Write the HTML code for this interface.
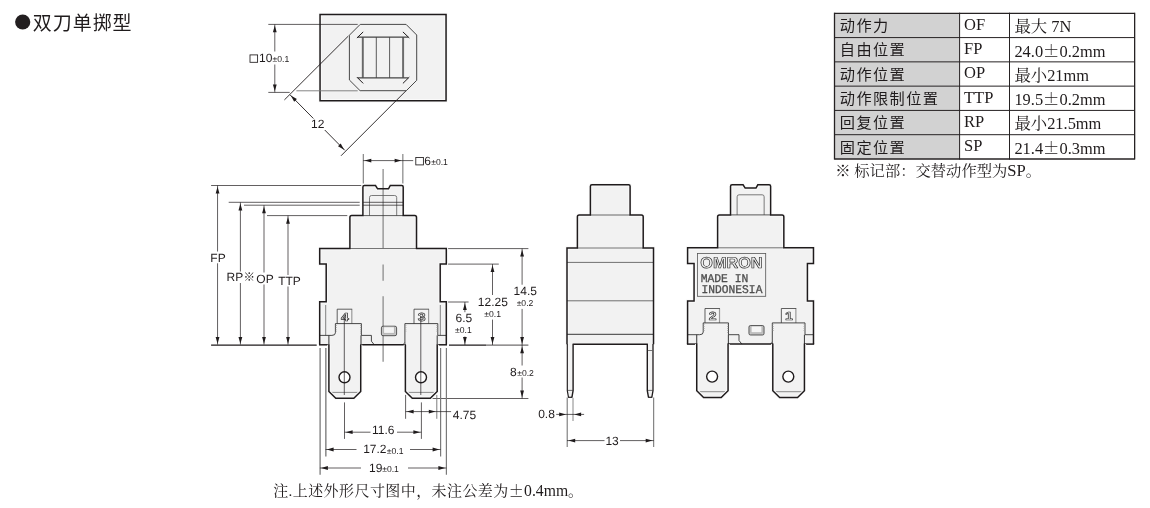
<!DOCTYPE html>
<html lang="zh-CN">
<head>
<meta charset="utf-8">
<title>双刀单掷型</title>
<style>
html,body{margin:0;padding:0;background:#fff;}
body{width:1150px;height:508px;overflow:hidden;position:relative;}
svg{will-change:transform;position:absolute;left:0;top:0;display:block;}
.s{font-family:"Liberation Sans","Noto Sans CJK SC",sans-serif;text-rendering:geometricPrecision;}
.r{font-family:"Liberation Serif","Noto Serif CJK SC",serif;}
.m{font-family:"Liberation Mono","Noto Sans CJK SC",monospace;}
.cs{font-family:"Liberation Sans","Noto Sans CJK SC",sans-serif;}
.cr{font-family:"Liberation Serif","Noto Serif CJK SC",serif;}
.pm{font-family:"Noto Serif CJK SC",serif;}
</style>
</head>
<body>
<svg width="1150" height="508" viewBox="0 0 1150 508">
<circle cx="22.7" cy="22" r="7.6" fill="#231f20"/>
<text x="32.8" y="29.8" font-size="19" text-anchor="start" class="cs" fill="#1f1b1c" letter-spacing="0.95" font-weight="400">双刀单掷型</text>
<rect x="320.05" y="14.5" width="126" height="86.25" rx="0" stroke="none" stroke-width="0" fill="#f2f2f2" />
<path d="M349.4 35.2 L360.2 24.4 L406.1 24.4 L416.7 35.0 L416.7 80.3 L406.3 90.7 L360.1 90.7 L349.4 80.0 Z" stroke="#484848" stroke-width="1.0" fill="none" />
<line x1="362.8" y1="37.2" x2="362.8" y2="77.8" stroke="#7d7d7d" stroke-width="2.0" />
<line x1="403.1" y1="37.2" x2="403.1" y2="77.8" stroke="#7d7d7d" stroke-width="2.0" />
<line x1="357.8" y1="37.1" x2="408.2" y2="37.1" stroke="#444" stroke-width="1.2" />
<line x1="357.8" y1="77.9" x2="408.2" y2="77.9" stroke="#444" stroke-width="1.2" />
<line x1="362.8" y1="37.2" x2="362.8" y2="77.8" stroke="#444" stroke-width="0.5" />
<line x1="403.1" y1="37.2" x2="403.1" y2="77.8" stroke="#444" stroke-width="0.5" />
<line x1="376.3" y1="37.2" x2="376.3" y2="77.8" stroke="#333" stroke-width="0.8" />
<line x1="389.6" y1="37.2" x2="389.6" y2="77.8" stroke="#333" stroke-width="0.8" />
<line x1="356.9" y1="38" x2="363.2" y2="31.9" stroke="#1f1b1c" stroke-width="1.0" />
<line x1="402.9" y1="31.9" x2="409.3" y2="38" stroke="#1f1b1c" stroke-width="1.0" />
<line x1="356.9" y1="77.1" x2="363.2" y2="83.4" stroke="#1f1b1c" stroke-width="1.0" />
<line x1="402.9" y1="83.4" x2="409.3" y2="77.1" stroke="#1f1b1c" stroke-width="1.0" />
<path d="M320.05 14.5 H446.05 V100.75 H320.05 Z" stroke="#fafafa" stroke-width="3.4" fill="none" />
<path d="M320.05 14.5 H446.05 V100.75 H320.05 Z" stroke="#1f1b1c" stroke-width="1.5" fill="none" />
<line x1="268.3" y1="24.4" x2="357.7" y2="24.4" stroke="#1f1b1c" stroke-width="0.7" />
<line x1="268.3" y1="92.4" x2="289.7" y2="92.4" stroke="#1f1b1c" stroke-width="0.7" />
<line x1="296.4" y1="90.8" x2="357.7" y2="90.8" stroke="#777" stroke-width="0.9" />
<line x1="274.8" y1="24.4" x2="274.8" y2="92.4" stroke="#1f1b1c" stroke-width="0.7" />
<polygon points="274.80,25.50 276.70,32.30 272.90,32.30" fill="#1f1b1c"/>
<polygon points="274.80,91.30 272.90,84.50 276.70,84.50" fill="#1f1b1c"/>
<rect x="249" y="51.5" width="41.5" height="13" fill="#fff"/>
<rect x="250" y="54.9" width="7.6" height="7.4" rx="0" stroke="#1f1b1c" stroke-width="0.85" fill="none" />
<text x="259" y="61.8" font-size="12" text-anchor="start" class="s" fill="#1f1b1c" >10</text>
<text x="272.6" y="62.3" font-size="8.6" text-anchor="start" class="s" fill="#1f1b1c" >±0.1</text>
<line x1="348.3" y1="36.1" x2="284.4" y2="99.9" stroke="#1f1b1c" stroke-width="0.9" />
<line x1="406.1" y1="90.7" x2="341" y2="155.8" stroke="#1f1b1c" stroke-width="0.9" />
<line x1="290.1" y1="94.9" x2="344.8" y2="150.3" stroke="#1f1b1c" stroke-width="0.9" />
<polygon points="290.74,95.54 296.89,99.00 294.20,101.69" fill="#1f1b1c"/>
<polygon points="344.16,149.66 338.01,146.20 340.70,143.51" fill="#1f1b1c"/>
<rect x="310.5" y="118.5" width="14.5" height="11.5" fill="#fff"/>
<text x="311" y="128.1" font-size="12" text-anchor="start" class="s" fill="#1f1b1c" >12</text>
<line x1="363.3" y1="154" x2="363.3" y2="183.6" stroke="#7a7a7a" stroke-width="1.1" />
<line x1="402.85" y1="154" x2="402.85" y2="183.6" stroke="#7a7a7a" stroke-width="1.1" />
<line x1="363.2" y1="160.6" x2="413.2" y2="160.6" stroke="#1f1b1c" stroke-width="0.7" />
<polygon points="364.50,160.60 371.30,158.70 371.30,162.50" fill="#1f1b1c"/>
<polygon points="401.40,160.60 394.60,162.50 394.60,158.70" fill="#1f1b1c"/>
<rect x="415.8" y="157.5" width="7.6" height="7.4" rx="0" stroke="#1f1b1c" stroke-width="0.85" fill="none" />
<text x="424.3" y="164.8" font-size="12" text-anchor="start" class="s" fill="#1f1b1c" >6</text>
<text x="431.2" y="165.3" font-size="8.6" text-anchor="start" class="s" fill="#1f1b1c" >±0.1</text>
<path d="M319.7 344.8 V301.7 H326.2 V264.1 H319.7 V248.5 H349.9 V217.4 Q349.9 215.6 351.7 215.6 H362.9 V187 Q362.9 185.5 364.4 185.5 H375.5 L377.6 188.8 H388.5 L390.3 185.5 H401.7 Q403.2 185.5 403.2 187 V215.6 H414.7 Q416.5 215.6 416.5 217.4 V248.5 H446.3 V264.1 H440.2 V301.7 H446.3 V344.8 Z" stroke="none" stroke-width="0" fill="#f2f2f2" />
<path d="M319.7 344.8 V301.7 H326.2 V264.1 H319.7 V248.5 H349.9 V217.4 Q349.9 215.6 351.7 215.6 H362.9 V187 Q362.9 185.5 364.4 185.5 H375.5 L377.6 188.8 H388.5 L390.3 185.5 H401.7 Q403.2 185.5 403.2 187 V215.6 H414.7 Q416.5 215.6 416.5 217.4 V248.5 H446.3 V264.1 H440.2 V301.7 H446.3 V344.8" stroke="#fafafa" stroke-width="3.4" fill="none" />
<line x1="383.1" y1="169" x2="383.1" y2="248.5" stroke="#7a7a7a" stroke-width="1.1" />
<line x1="383.1" y1="264.4" x2="383.1" y2="280.7" stroke="#7a7a7a" stroke-width="1.1" />
<line x1="383.1" y1="296.2" x2="383.1" y2="361.8" stroke="#7a7a7a" stroke-width="1.1" />
<path d="M369.5 215.6 V197.5 Q369.5 195.5 371.5 195.5 H394.7 Q396.7 195.5 396.7 197.5 V215.6" stroke="#5a5a5a" stroke-width="0.8" fill="none" />
<line x1="363.1" y1="202.3" x2="403.1" y2="202.3" stroke="#1f1b1c" stroke-width="0.7" />
<line x1="363.1" y1="205.2" x2="403.1" y2="205.2" stroke="#1f1b1c" stroke-width="0.7" />
<line x1="363.1" y1="215.6" x2="403.1" y2="215.6" stroke="#333" stroke-width="0.8" />
<line x1="350.1" y1="248.5" x2="416.3" y2="248.5" stroke="#666" stroke-width="0.9" />
<line x1="325.7" y1="305" x2="325.7" y2="335.4" stroke="#808080" stroke-width="1.0" />
<line x1="440.3" y1="305" x2="440.3" y2="335.4" stroke="#808080" stroke-width="1.0" />
<path d="M328.9 335.4 V391.5 L335.8 398.3 H353.8 L360.7 391.5 V335.4 Z" stroke="none" stroke-width="0" fill="#f2f2f2" />
<path d="M405.4 335.4 V391.5 L412.3 398.3 H430.3 L437.2 391.5 V335.4 Z" stroke="none" stroke-width="0" fill="#f2f2f2" />
<rect x="337.2" y="309.2" width="14.8" height="14.4" rx="0" stroke="none" stroke-width="0" fill="#f4f4f4" />
<line x1="351.8" y1="309.2" x2="351.8" y2="323.6" stroke="#9a9a9a" stroke-width="1.2" />
<path d="M337.2 323.6 V309.2 H352.2" stroke="#3a3a3a" stroke-width="0.8" fill="none" />
<text x="340.9" y="320.6" font-size="11.6" text-anchor="start" class="s" font-weight="bold" fill="#ececec" stroke="#2e2e2e" stroke-width="0.62" stroke-linejoin="round" text-rendering="geometricPrecision" textLength="7.9" lengthAdjust="spacingAndGlyphs">4</text>
<rect x="414" y="309.2" width="14.8" height="14.4" rx="0" stroke="none" stroke-width="0" fill="#f4f4f4" />
<line x1="428.6" y1="309.2" x2="428.6" y2="323.6" stroke="#9a9a9a" stroke-width="1.2" />
<path d="M414 323.6 V309.2 H429" stroke="#3a3a3a" stroke-width="0.8" fill="none" />
<text x="417.7" y="320.6" font-size="11.6" text-anchor="start" class="s" font-weight="bold" fill="#ececec" stroke="#2e2e2e" stroke-width="0.62" stroke-linejoin="round" text-rendering="geometricPrecision" textLength="7.9" lengthAdjust="spacingAndGlyphs">3</text>
<path d="M319.7 335.4 H331.9 Q335.4 335.4 335.4 332.8 V323.6 H361.4 V335.4 H371.4 V341.2 L374.3 344.8" stroke="#333" stroke-width="0.9" fill="none" />
<line x1="328.9" y1="335.4" x2="328.9" y2="344.8" stroke="#333" stroke-width="1.0" />
<line x1="361" y1="335.4" x2="361" y2="344.8" stroke="#333" stroke-width="1.0" />
<line x1="336.3" y1="325.1" x2="336.3" y2="332.4" stroke="#a0a0a0" stroke-width="1.2" stroke-dasharray="0.7 1.2"/>
<line x1="360.6" y1="325.1" x2="360.6" y2="334.4" stroke="#a0a0a0" stroke-width="1.2" stroke-dasharray="0.7 1.2"/>
<path d="M404.9 344.8 V323.6 H437.8 V335.4 H446.3" stroke="#333" stroke-width="0.9" fill="none" />
<line x1="437.2" y1="335.4" x2="437.2" y2="344.8" stroke="#333" stroke-width="1.0" />
<line x1="405.8" y1="325.1" x2="405.8" y2="332.4" stroke="#a0a0a0" stroke-width="1.2" stroke-dasharray="0.7 1.2"/>
<line x1="436.9" y1="325.1" x2="436.9" y2="332.4" stroke="#a0a0a0" stroke-width="1.2" stroke-dasharray="0.7 1.2"/>
<path d="M402.9 344.5 L404.9 342.2" stroke="#555" stroke-width="0.6" fill="none" />
<rect x="381.4" y="326.2" width="15.2" height="9.5" rx="1.6" stroke="#2c2c2c" stroke-width="0.75" fill="#c6c6c6" />
<rect x="383.6" y="326.8" width="10.8" height="6.6" rx="0.3" stroke="#777" stroke-width="0.4" fill="#f5f5f5" />
<path d="M319.7 344.8 V301.7 H326.2 V264.1 H319.7 V248.5 H349.9 V217.4 Q349.9 215.6 351.7 215.6 H362.9 V187 Q362.9 185.5 364.4 185.5 H375.5 L377.6 188.8 H388.5 L390.3 185.5 H401.7 Q403.2 185.5 403.2 187 V215.6 H414.7 Q416.5 215.6 416.5 217.4 V248.5 H446.3 V264.1 H440.2 V301.7 H446.3 V344.8" stroke="#1f1b1c" stroke-width="1.5" fill="none" />
<path d="M319 344.8 H329.5" stroke="#1f1b1c" stroke-width="1.5" fill="none" />
<path d="M360.1 344.8 H406" stroke="#1f1b1c" stroke-width="1.5" fill="none" />
<path d="M436.6 344.8 H447" stroke="#1f1b1c" stroke-width="1.5" fill="none" />
<line x1="329.7" y1="392.4" x2="359.9" y2="392.4" stroke="#444" stroke-width="0.6" />
<path d="M328.9 344.8 V391.5 L335.8 398.3 H353.8 L360.7 391.5 V344.8" stroke="#fafafa" stroke-width="3.4" fill="none" />
<path d="M328.9 344.8 V391.5 L335.8 398.3 H353.8 L360.7 391.5 V344.8" stroke="#1f1b1c" stroke-width="1.5" fill="none" />
<circle cx="344.5" cy="377.3" r="5.5" fill="#fff" stroke="#1f1b1c" stroke-width="1.4"/>
<line x1="344.3" y1="316.7" x2="344.3" y2="395" stroke="#1f1b1c" stroke-width="0.7" />
<line x1="406.2" y1="392.4" x2="436.4" y2="392.4" stroke="#444" stroke-width="0.6" />
<path d="M405.4 344.8 V391.5 L412.3 398.3 H430.3 L437.2 391.5 V344.8" stroke="#fafafa" stroke-width="3.4" fill="none" />
<path d="M405.4 344.8 V391.5 L412.3 398.3 H430.3 L437.2 391.5 V344.8" stroke="#1f1b1c" stroke-width="1.5" fill="none" />
<circle cx="421" cy="377.3" r="5.5" fill="#fff" stroke="#1f1b1c" stroke-width="1.4"/>
<line x1="420.8" y1="316.7" x2="420.8" y2="395" stroke="#1f1b1c" stroke-width="0.7" />
<line x1="211.1" y1="185.5" x2="361.2" y2="185.5" stroke="#1f1b1c" stroke-width="0.7" />
<line x1="228.7" y1="202.3" x2="359.7" y2="202.3" stroke="#1f1b1c" stroke-width="0.7" />
<line x1="244" y1="205.2" x2="359.7" y2="205.2" stroke="#1f1b1c" stroke-width="0.7" />
<line x1="267" y1="215.6" x2="347.3" y2="215.6" stroke="#1f1b1c" stroke-width="0.7" />
<line x1="211.1" y1="345.1" x2="316.7" y2="345.1" stroke="#1f1b1c" stroke-width="1.2" />
<line x1="217.55" y1="185.5" x2="217.55" y2="344.6" stroke="#1f1b1c" stroke-width="0.7" />
<polygon points="217.55,186.80 219.45,193.60 215.65,193.60" fill="#1f1b1c"/>
<polygon points="217.55,343.70 215.65,336.90 219.45,336.90" fill="#1f1b1c"/>
<line x1="240.4" y1="202.3" x2="240.4" y2="344.6" stroke="#1f1b1c" stroke-width="0.7" />
<polygon points="240.40,203.60 242.30,210.40 238.50,210.40" fill="#1f1b1c"/>
<polygon points="240.40,343.70 238.50,336.90 242.30,336.90" fill="#1f1b1c"/>
<line x1="264" y1="205.2" x2="264" y2="344.6" stroke="#1f1b1c" stroke-width="0.7" />
<polygon points="264.00,206.50 265.90,213.30 262.10,213.30" fill="#1f1b1c"/>
<polygon points="264.00,343.70 262.10,336.90 265.90,336.90" fill="#1f1b1c"/>
<line x1="288" y1="215.6" x2="288" y2="344.6" stroke="#1f1b1c" stroke-width="0.7" />
<polygon points="288.00,216.90 289.90,223.70 286.10,223.70" fill="#1f1b1c"/>
<polygon points="288.00,343.70 286.10,336.90 289.90,336.90" fill="#1f1b1c"/>
<rect x="209.5" y="251.5" width="16.5" height="11.8" fill="#fff"/>
<text x="210.3" y="261.6" font-size="12" text-anchor="start" class="s" fill="#1f1b1c" >FP</text>
<rect x="226" y="271.5" width="17" height="11.5" fill="#fff"/>
<text x="226.6" y="280.9" font-size="12" text-anchor="start" class="s" fill="#1f1b1c" >RP</text>
<text x="243.4" y="280.6" font-size="11.5" text-anchor="start" class="cs" fill="#1f1b1c" font-weight="300">※</text>
<rect x="256" y="272.5" width="18" height="12" fill="#fff"/>
<text x="256.3" y="282.7" font-size="12" text-anchor="start" class="s" fill="#1f1b1c" >OP</text>
<rect x="278" y="275" width="23" height="11.5" fill="#fff"/>
<text x="278.2" y="284.7" font-size="12" text-anchor="start" class="s" fill="#1f1b1c" >TTP</text>
<line x1="448.1" y1="248.6" x2="528.4" y2="248.6" stroke="#1f1b1c" stroke-width="0.7" />
<line x1="448.1" y1="264.1" x2="498.8" y2="264.1" stroke="#1f1b1c" stroke-width="0.7" />
<line x1="448.1" y1="302" x2="468.6" y2="302" stroke="#1f1b1c" stroke-width="0.7" />
<line x1="449" y1="345.1" x2="486" y2="345.1" stroke="#1f1b1c" stroke-width="1.15" />
<line x1="486" y1="345.1" x2="528.4" y2="345.1" stroke="#1f1b1c" stroke-width="0.8" />
<line x1="432.6" y1="398.5" x2="528.4" y2="398.5" stroke="#1f1b1c" stroke-width="0.7" />
<line x1="522.1" y1="248.6" x2="522.1" y2="398.5" stroke="#1f1b1c" stroke-width="0.7" />
<polygon points="522.10,249.80 524.00,256.60 520.20,256.60" fill="#1f1b1c"/>
<polygon points="522.10,343.90 520.20,337.10 524.00,337.10" fill="#1f1b1c"/>
<polygon points="522.10,346.40 524.00,353.20 520.20,353.20" fill="#1f1b1c"/>
<polygon points="522.10,397.40 520.20,390.60 524.00,390.60" fill="#1f1b1c"/>
<line x1="492.5" y1="264.1" x2="492.5" y2="345" stroke="#1f1b1c" stroke-width="0.7" />
<polygon points="492.50,265.30 494.40,272.10 490.60,272.10" fill="#1f1b1c"/>
<polygon points="492.50,343.90 490.60,337.10 494.40,337.10" fill="#1f1b1c"/>
<line x1="464.9" y1="302" x2="464.9" y2="345" stroke="#1f1b1c" stroke-width="0.7" />
<polygon points="464.90,303.20 466.80,310.00 463.00,310.00" fill="#1f1b1c"/>
<polygon points="464.90,343.90 463.00,337.10 466.80,337.10" fill="#1f1b1c"/>
<rect x="512" y="284.7" width="26" height="24.2" fill="#fff"/>
<text x="525.3" y="295" font-size="12" text-anchor="middle" class="s" fill="#1f1b1c" >14.5</text>
<text x="525" y="306" font-size="8.6" text-anchor="middle" class="s" fill="#1f1b1c" >±0.2</text>
<rect x="477" y="295" width="32" height="24.6" fill="#fff"/>
<text x="492.8" y="305.7" font-size="12" text-anchor="middle" class="s" fill="#1f1b1c" >12.25</text>
<text x="492.6" y="317.1" font-size="8.6" text-anchor="middle" class="s" fill="#1f1b1c" >±0.1</text>
<rect x="454" y="312.2" width="19.5" height="24.3" fill="#fff"/>
<text x="463.8" y="322.1" font-size="12" text-anchor="middle" class="s" fill="#1f1b1c" >6.5</text>
<text x="463.4" y="333.1" font-size="8.6" text-anchor="middle" class="s" fill="#1f1b1c" >±0.1</text>
<rect x="509" y="365.5" width="26" height="12" fill="#fff"/>
<text x="510" y="375.5" font-size="12" text-anchor="start" class="s" fill="#1f1b1c" >8</text>
<text x="517.2" y="376" font-size="8.6" text-anchor="start" class="s" fill="#1f1b1c" >±0.2</text>
<line x1="320.1" y1="348" x2="320.1" y2="474.7" stroke="#7a7a7a" stroke-width="1.3" />
<line x1="446.4" y1="348" x2="446.4" y2="474.7" stroke="#7a7a7a" stroke-width="1.2" />
<line x1="325.85" y1="348" x2="325.85" y2="456.5" stroke="#7a7a7a" stroke-width="1.35" />
<line x1="440.6" y1="348" x2="440.6" y2="456.5" stroke="#7a7a7a" stroke-width="1.2" />
<line x1="344.5" y1="402.4" x2="344.5" y2="438.9" stroke="#1f1b1c" stroke-width="0.7" />
<line x1="421.4" y1="402.4" x2="421.4" y2="438.9" stroke="#1f1b1c" stroke-width="0.7" />
<line x1="405.6" y1="394.9" x2="405.6" y2="418.8" stroke="#1f1b1c" stroke-width="0.7" />
<line x1="436.8" y1="394.9" x2="436.8" y2="418.8" stroke="#6e6e6e" stroke-width="0.9" />
<line x1="405.6" y1="411.6" x2="451.1" y2="411.6" stroke="#1f1b1c" stroke-width="0.7" />
<polygon points="406.80,411.60 413.60,409.70 413.60,413.50" fill="#1f1b1c"/>
<polygon points="435.60,411.60 428.80,413.50 428.80,409.70" fill="#1f1b1c"/>
<text x="452.8" y="418.8" font-size="12" text-anchor="start" class="s" fill="#1f1b1c" >4.75</text>
<line x1="344.5" y1="432.2" x2="421.4" y2="432.2" stroke="#1f1b1c" stroke-width="0.7" />
<polygon points="345.80,432.20 352.60,430.30 352.60,434.10" fill="#1f1b1c"/>
<polygon points="420.20,432.20 413.40,434.10 413.40,430.30" fill="#1f1b1c"/>
<rect x="370.5" y="426" width="26.5" height="12" fill="#fff"/>
<text x="372" y="434.1" font-size="12" text-anchor="start" class="s" fill="#1f1b1c" >11.6</text>
<line x1="325.6" y1="449.5" x2="440.6" y2="449.5" stroke="#1f1b1c" stroke-width="0.7" />
<polygon points="326.80,449.50 333.60,447.60 333.60,451.40" fill="#1f1b1c"/>
<polygon points="439.40,449.50 432.60,451.40 432.60,447.60" fill="#1f1b1c"/>
<rect x="356.5" y="443" width="53.5" height="12" fill="#fff"/>
<text x="363.2" y="453.2" font-size="12" text-anchor="start" class="s" fill="#1f1b1c" >17.2</text>
<text x="386.8" y="453.7" font-size="8.6" text-anchor="start" class="s" fill="#1f1b1c" >±0.1</text>
<line x1="319.9" y1="468" x2="446.4" y2="468" stroke="#1f1b1c" stroke-width="0.7" />
<polygon points="321.10,468.00 327.90,466.10 327.90,469.90" fill="#1f1b1c"/>
<polygon points="445.20,468.00 438.40,469.90 438.40,466.10" fill="#1f1b1c"/>
<rect x="361" y="462" width="47" height="12" fill="#fff"/>
<text x="369" y="471.9" font-size="12" text-anchor="start" class="s" fill="#1f1b1c" >19</text>
<text x="382.2" y="472.4" font-size="8.6" text-anchor="start" class="s" fill="#1f1b1c" >±0.1</text>
<path d="M567 344.2 V248.0 H577.4 V216.8 Q577.4 215.0 579.2 215.0 H590.4 V186.2 Q590.4 184.7 591.9 184.7 H628.6 Q630.1 184.7 630.1 186.2 V215.0 H641.4 Q643.2 215.0 643.2 216.8 V248.0 H653.5 V344.2 Z" stroke="none" stroke-width="0" fill="#f2f2f2" />
<path d="M567 344.2 V248.0 H577.4 V216.8 Q577.4 215.0 579.2 215.0 H590.4 V186.2 Q590.4 184.7 591.9 184.7 H628.6 Q630.1 184.7 630.1 186.2 V215.0 H641.4 Q643.2 215.0 643.2 216.8 V248.0 H653.5 V344.2" stroke="#fafafa" stroke-width="3.4" fill="none" />
<line x1="590.4" y1="215" x2="630.1" y2="215" stroke="#444" stroke-width="0.8" />
<line x1="577.4" y1="248" x2="643.2" y2="248" stroke="#666" stroke-width="0.9" />
<line x1="567" y1="262.4" x2="653.5" y2="262.4" stroke="#707070" stroke-width="1.0" />
<line x1="567" y1="300.8" x2="653.5" y2="300.8" stroke="#707070" stroke-width="1.0" />
<line x1="567" y1="334.3" x2="653.5" y2="334.3" stroke="#222" stroke-width="0.9" />
<path d="M567 344.2 V248.0 H577.4 V216.8 Q577.4 215.0 579.2 215.0 H590.4 V186.2 Q590.4 184.7 591.9 184.7 H628.6 Q630.1 184.7 630.1 186.2 V215.0 H641.4 Q643.2 215.0 643.2 216.8 V248.0 H653.5 V344.2" stroke="#1f1b1c" stroke-width="1.5" fill="none" />
<line x1="572.6" y1="344.2" x2="647.9" y2="344.2" stroke="#1f1b1c" stroke-width="1.5" />
<path d="M567.3 344 V390.6 L568.5 397.3 H571.9 L573.1 390.6 V344 Z" stroke="none" stroke-width="0" fill="#f3f3f3" />
<line x1="567.6" y1="390.4" x2="572.8" y2="390.4" stroke="#333" stroke-width="0.7" />
<path d="M567.3 344 V390.6 L568.5 397.3" stroke="#1f1b1c" stroke-width="1.15" fill="none" />
<path d="M573.1 344 V390.6 L571.9 397.3" stroke="#1f1b1c" stroke-width="1.4" fill="none" />
<line x1="568.1" y1="397.3" x2="572.3" y2="397.3" stroke="#1f1b1c" stroke-width="1.2" />
<path d="M647.3 344 V390.6 L648.5 397.3 H651.8 L653.0 390.6 V344 Z" stroke="none" stroke-width="0" fill="#f3f3f3" />
<line x1="647.6" y1="390.4" x2="652.7" y2="390.4" stroke="#333" stroke-width="0.7" />
<path d="M647.3 344 V390.6 L648.5 397.3" stroke="#1f1b1c" stroke-width="1.4" fill="none" />
<path d="M653.0 344 V390.6 L651.8 397.3" stroke="#1f1b1c" stroke-width="1.3" fill="none" />
<line x1="648.1" y1="397.3" x2="652.2" y2="397.3" stroke="#1f1b1c" stroke-width="1.2" />
<line x1="647.8" y1="350.5" x2="652.5" y2="350.5" stroke="#555" stroke-width="0.8" />
<line x1="567.2" y1="397.5" x2="567.2" y2="447" stroke="#444" stroke-width="0.8" />
<line x1="653.7" y1="397.5" x2="653.7" y2="447" stroke="#444" stroke-width="0.8" />
<line x1="573" y1="397.8" x2="573" y2="421" stroke="#888" stroke-width="1.0" />
<line x1="556.2" y1="414.4" x2="584.1" y2="414.4" stroke="#1f1b1c" stroke-width="0.7" />
<polygon points="566.00,414.40 559.20,416.30 559.20,412.50" fill="#1f1b1c"/>
<polygon points="574.30,414.40 581.10,412.50 581.10,416.30" fill="#1f1b1c"/>
<text x="538.2" y="418.2" font-size="12" text-anchor="start" class="s" fill="#1f1b1c" >0.8</text>
<line x1="567" y1="440.6" x2="653.8" y2="440.6" stroke="#1f1b1c" stroke-width="0.7" />
<polygon points="568.40,440.60 575.20,438.70 575.20,442.50" fill="#1f1b1c"/>
<polygon points="652.50,440.60 645.70,442.50 645.70,438.70" fill="#1f1b1c"/>
<rect x="604.5" y="435" width="15.5" height="11.5" fill="#fff"/>
<text x="605.4" y="444.5" font-size="12" text-anchor="start" class="s" fill="#1f1b1c" >13</text>
<g transform="translate(687.6 0) scale(0.9942 1) translate(-687.6 0)">
<path d="M687.6 344.1 V301 H694.1 V263.4 H687.6 V247.8 H717.8 V216.7 Q717.8 214.9 719.6 214.9 H730.8 V186.3 Q730.8 184.8 732.3 184.8 H743.4 L745.5 188.1 H756.4 L758.2 184.8 H769.6 Q771.1 184.8 771.1 186.3 V214.9 H782.6 Q784.4 214.9 784.4 216.7 V247.8 H814.2 V263.4 H808.1 V301 H814.2 V344.1 Z" stroke="none" stroke-width="0" fill="#f2f2f2" />
<path d="M687.6 344.1 V301 H694.1 V263.4 H687.6 V247.8 H717.8 V216.7 Q717.8 214.9 719.6 214.9 H730.8 V186.3 Q730.8 184.8 732.3 184.8 H743.4 L745.5 188.1 H756.4 L758.2 184.8 H769.6 Q771.1 184.8 771.1 186.3 V214.9 H782.6 Q784.4 214.9 784.4 216.7 V247.8 H814.2 V263.4 H808.1 V301 H814.2 V344.1" stroke="#fafafa" stroke-width="3.4" fill="none" />
<path d="M737.4 214.9 V196.8 Q737.4 194.8 739.4 194.8 H762.6 Q764.6 194.8 764.6 196.8 V214.9" stroke="#5a5a5a" stroke-width="0.8" fill="none" />
<line x1="731" y1="214.9" x2="771" y2="214.9" stroke="#333" stroke-width="0.8" />
<line x1="718" y1="247.8" x2="784.2" y2="247.8" stroke="#666" stroke-width="0.9" />
<path d="M696.8 334.7 V390.8 L703.7 397.6 H721.4 L728.3 390.8 V334.7 Z" stroke="none" stroke-width="0" fill="#f2f2f2" />
<path d="M773.3 334.7 V390.8 L780.2 397.6 H798.2 L805.1 390.8 V334.7 Z" stroke="none" stroke-width="0" fill="#f2f2f2" />
<rect x="705.1" y="308.5" width="14.8" height="14.4" rx="0" stroke="none" stroke-width="0" fill="#f4f4f4" />
<line x1="719.7" y1="308.5" x2="719.7" y2="322.9" stroke="#9a9a9a" stroke-width="1.2" />
<path d="M705.1 322.9 V308.5 H720.1" stroke="#3a3a3a" stroke-width="0.8" fill="none" />
<text x="708.8" y="319.9" font-size="11.6" text-anchor="start" class="s" font-weight="bold" fill="#ececec" stroke="#2e2e2e" stroke-width="0.62" stroke-linejoin="round" text-rendering="geometricPrecision" textLength="7.9" lengthAdjust="spacingAndGlyphs">2</text>
<rect x="781.9" y="308.5" width="14.8" height="14.4" rx="0" stroke="none" stroke-width="0" fill="#f4f4f4" />
<line x1="796.5" y1="308.5" x2="796.5" y2="322.9" stroke="#9a9a9a" stroke-width="1.2" />
<path d="M781.9 322.9 V308.5 H796.9" stroke="#3a3a3a" stroke-width="0.8" fill="none" />
<text x="785.6" y="319.9" font-size="11.6" text-anchor="start" class="s" font-weight="bold" fill="#ececec" stroke="#2e2e2e" stroke-width="0.62" stroke-linejoin="round" text-rendering="geometricPrecision" textLength="7.9" lengthAdjust="spacingAndGlyphs">1</text>
<path d="M687.6 334.7 H699.8 Q703.3 334.7 703.3 332.1 V322.9 H728.7 V334.7 H739.3 V340.5 L742.2 344.1" stroke="#333" stroke-width="0.9" fill="none" />
<line x1="696.8" y1="334.7" x2="696.8" y2="344.1" stroke="#333" stroke-width="1.0" />
<line x1="728.6" y1="334.7" x2="728.6" y2="344.1" stroke="#333" stroke-width="1.0" />
<line x1="704.2" y1="324.4" x2="704.2" y2="331.7" stroke="#a0a0a0" stroke-width="1.2" stroke-dasharray="0.7 1.2"/>
<line x1="727.9" y1="324.4" x2="727.9" y2="333.7" stroke="#a0a0a0" stroke-width="1.2" stroke-dasharray="0.7 1.2"/>
<path d="M772.8 344.1 V322.9 H805.7 V334.7 H814.2" stroke="#333" stroke-width="0.9" fill="none" />
<line x1="805.1" y1="334.7" x2="805.1" y2="344.1" stroke="#333" stroke-width="1.0" />
<line x1="773.7" y1="324.4" x2="773.7" y2="331.7" stroke="#a0a0a0" stroke-width="1.2" stroke-dasharray="0.7 1.2"/>
<line x1="804.8" y1="324.4" x2="804.8" y2="331.7" stroke="#a0a0a0" stroke-width="1.2" stroke-dasharray="0.7 1.2"/>
<path d="M770.8 343.8 L772.8 341.5" stroke="#555" stroke-width="0.6" fill="none" />
<rect x="749.3" y="325.5" width="15.2" height="9.5" rx="1.6" stroke="#2c2c2c" stroke-width="0.75" fill="#c6c6c6" />
<rect x="751.5" y="326.1" width="10.8" height="6.6" rx="0.3" stroke="#777" stroke-width="0.4" fill="#f5f5f5" />
<path d="M687.6 344.1 V301 H694.1 V263.4 H687.6 V247.8 H717.8 V216.7 Q717.8 214.9 719.6 214.9 H730.8 V186.3 Q730.8 184.8 732.3 184.8 H743.4 L745.5 188.1 H756.4 L758.2 184.8 H769.6 Q771.1 184.8 771.1 186.3 V214.9 H782.6 Q784.4 214.9 784.4 216.7 V247.8 H814.2 V263.4 H808.1 V301 H814.2 V344.1" stroke="#1f1b1c" stroke-width="1.5" fill="none" />
<path d="M686.9 344.1 H697.4" stroke="#1f1b1c" stroke-width="1.5" fill="none" />
<path d="M727.7 344.1 H773.9" stroke="#1f1b1c" stroke-width="1.5" fill="none" />
<path d="M804.5 344.1 H814.9" stroke="#1f1b1c" stroke-width="1.5" fill="none" />
<line x1="697.6" y1="391.7" x2="727.5" y2="391.7" stroke="#444" stroke-width="0.6" />
<path d="M696.8 344.1 V390.8 L703.7 397.6 H721.4 L728.3 390.8 V344.1" stroke="#fafafa" stroke-width="3.4" fill="none" />
<path d="M696.8 344.1 V390.8 L703.7 397.6 H721.4 L728.3 390.8 V344.1" stroke="#1f1b1c" stroke-width="1.5" fill="none" />
<circle cx="712.25" cy="376.6" r="5.5" fill="#fff" stroke="#1f1b1c" stroke-width="1.4"/>
<line x1="774.1" y1="391.7" x2="804.3" y2="391.7" stroke="#444" stroke-width="0.6" />
<path d="M773.3 344.1 V390.8 L780.2 397.6 H798.2 L805.1 390.8 V344.1" stroke="#fafafa" stroke-width="3.4" fill="none" />
<path d="M773.3 344.1 V390.8 L780.2 397.6 H798.2 L805.1 390.8 V344.1" stroke="#1f1b1c" stroke-width="1.5" fill="none" />
<circle cx="788.9" cy="376.6" r="5.5" fill="#fff" stroke="#1f1b1c" stroke-width="1.4"/>
</g>
<rect x="697.4" y="253.4" width="68.3" height="42.9" rx="0" stroke="#555" stroke-width="0.8" fill="none" />
<text x="700.3" y="267.9" font-size="15.6" text-anchor="start" class="s" font-weight="bold" fill="#efefef" stroke="#2a2a2a" stroke-width="0.65" stroke-linejoin="round" text-rendering="geometricPrecision" textLength="62.2" lengthAdjust="spacingAndGlyphs">OMRON</text>
<text x="700.7" y="281.5" font-size="11.9" text-anchor="start" class="m" font-weight="normal" fill="#555" stroke="#444" stroke-width="0.3" stroke-linejoin="round" text-rendering="geometricPrecision" textLength="47.6" lengthAdjust="spacingAndGlyphs" xml:space="preserve">MADE IN</text>
<text x="701.6" y="293.3" font-size="11.9" text-anchor="start" class="m" font-weight="normal" fill="#555" stroke="#444" stroke-width="0.3" stroke-linejoin="round" text-rendering="geometricPrecision" textLength="60.8" lengthAdjust="spacingAndGlyphs">INDONESIA</text>
<rect x="834.5" y="13.3" width="125.10000000000002" height="145.68" fill="#d2d2d2"/>
<line x1="834.5" y1="13.3" x2="1134.65" y2="13.3" stroke="#262223" stroke-width="1.3" />
<line x1="834.5" y1="37.58" x2="1134.65" y2="37.58" stroke="#262223" stroke-width="1.0" />
<line x1="834.5" y1="61.86" x2="1134.65" y2="61.86" stroke="#262223" stroke-width="1.0" />
<line x1="834.5" y1="86.14" x2="1134.65" y2="86.14" stroke="#262223" stroke-width="1.0" />
<line x1="834.5" y1="110.42" x2="1134.65" y2="110.42" stroke="#262223" stroke-width="1.0" />
<line x1="834.5" y1="134.7" x2="1134.65" y2="134.7" stroke="#262223" stroke-width="1.0" />
<line x1="834.5" y1="158.98" x2="1134.65" y2="158.98" stroke="#262223" stroke-width="1.3" />
<line x1="834.5" y1="12.7" x2="834.5" y2="159.58" stroke="#262223" stroke-width="1.3" />
<line x1="959.6" y1="12.7" x2="959.6" y2="159.58" stroke="#262223" stroke-width="1.0" />
<line x1="1009.5" y1="12.7" x2="1009.5" y2="159.58" stroke="#262223" stroke-width="1.0" />
<line x1="1134.65" y1="12.7" x2="1134.65" y2="159.58" stroke="#262223" stroke-width="1.3" />
<text x="839.8" y="31.2" font-size="15.2" text-anchor="start" class="cs" fill="#1f1b1c" letter-spacing="1.42">动作力</text>
<text x="964" y="29.9" font-size="16.5" text-anchor="start" class="r" fill="#1f1b1c" >OF</text>
<text x="1014.4" y="32.3" font-size="16.4" text-anchor="start" class="cr" fill="#1f1b1c" xml:space="preserve">最大 7N</text>
<text x="839.8" y="55.48" font-size="15.2" text-anchor="start" class="cs" fill="#1f1b1c" letter-spacing="1.42">自由位置</text>
<text x="964" y="54.18" font-size="16.5" text-anchor="start" class="r" fill="#1f1b1c" >FP</text>
<text x="1014.4" y="56.58" font-size="16.4" text-anchor="start" class="cr" fill="#1f1b1c" xml:space="preserve">24.0<tspan class="pm">±</tspan>0.2mm</text>
<text x="839.8" y="79.76" font-size="15.2" text-anchor="start" class="cs" fill="#1f1b1c" letter-spacing="1.42">动作位置</text>
<text x="964" y="78.46" font-size="16.5" text-anchor="start" class="r" fill="#1f1b1c" >OP</text>
<text x="1014.4" y="80.86" font-size="16.4" text-anchor="start" class="cr" fill="#1f1b1c" xml:space="preserve">最小21mm</text>
<text x="839.8" y="104.04" font-size="15.2" text-anchor="start" class="cs" fill="#1f1b1c" letter-spacing="1.42">动作限制位置</text>
<text x="964" y="102.74" font-size="16.5" text-anchor="start" class="r" fill="#1f1b1c" >TTP</text>
<text x="1014.4" y="105.14" font-size="16.4" text-anchor="start" class="cr" fill="#1f1b1c" xml:space="preserve">19.5<tspan class="pm">±</tspan>0.2mm</text>
<text x="839.8" y="128.32" font-size="15.2" text-anchor="start" class="cs" fill="#1f1b1c" letter-spacing="1.42">回复位置</text>
<text x="964" y="127.02" font-size="16.5" text-anchor="start" class="r" fill="#1f1b1c" >RP</text>
<text x="1014.4" y="129.42" font-size="16.4" text-anchor="start" class="cr" fill="#1f1b1c" xml:space="preserve">最小21.5mm</text>
<text x="839.8" y="152.6" font-size="15.2" text-anchor="start" class="cs" fill="#1f1b1c" letter-spacing="1.42">固定位置</text>
<text x="964" y="151.3" font-size="16.5" text-anchor="start" class="r" fill="#1f1b1c" >SP</text>
<text x="1014.4" y="153.7" font-size="16.4" text-anchor="start" class="cr" fill="#1f1b1c" xml:space="preserve">21.4<tspan class="pm">±</tspan>0.3mm</text>
<text x="835.2" y="175.9" font-size="15.3" text-anchor="start" class="cr" fill="#1f1b1c" xml:space="preserve">※ 标记部：交替动作型为<tspan font-size="16.6">SP</tspan>。</text>
<text x="273.2" y="496.4" font-size="15.0" text-anchor="start" class="cr" fill="#1f1b1c" letter-spacing="0.42">注.上述外形尺寸图中，未注公差为<tspan class="pm">±</tspan><tspan font-size="15.7" letter-spacing="0">0.4mm</tspan>。</text>
</svg>
</body>
</html>
